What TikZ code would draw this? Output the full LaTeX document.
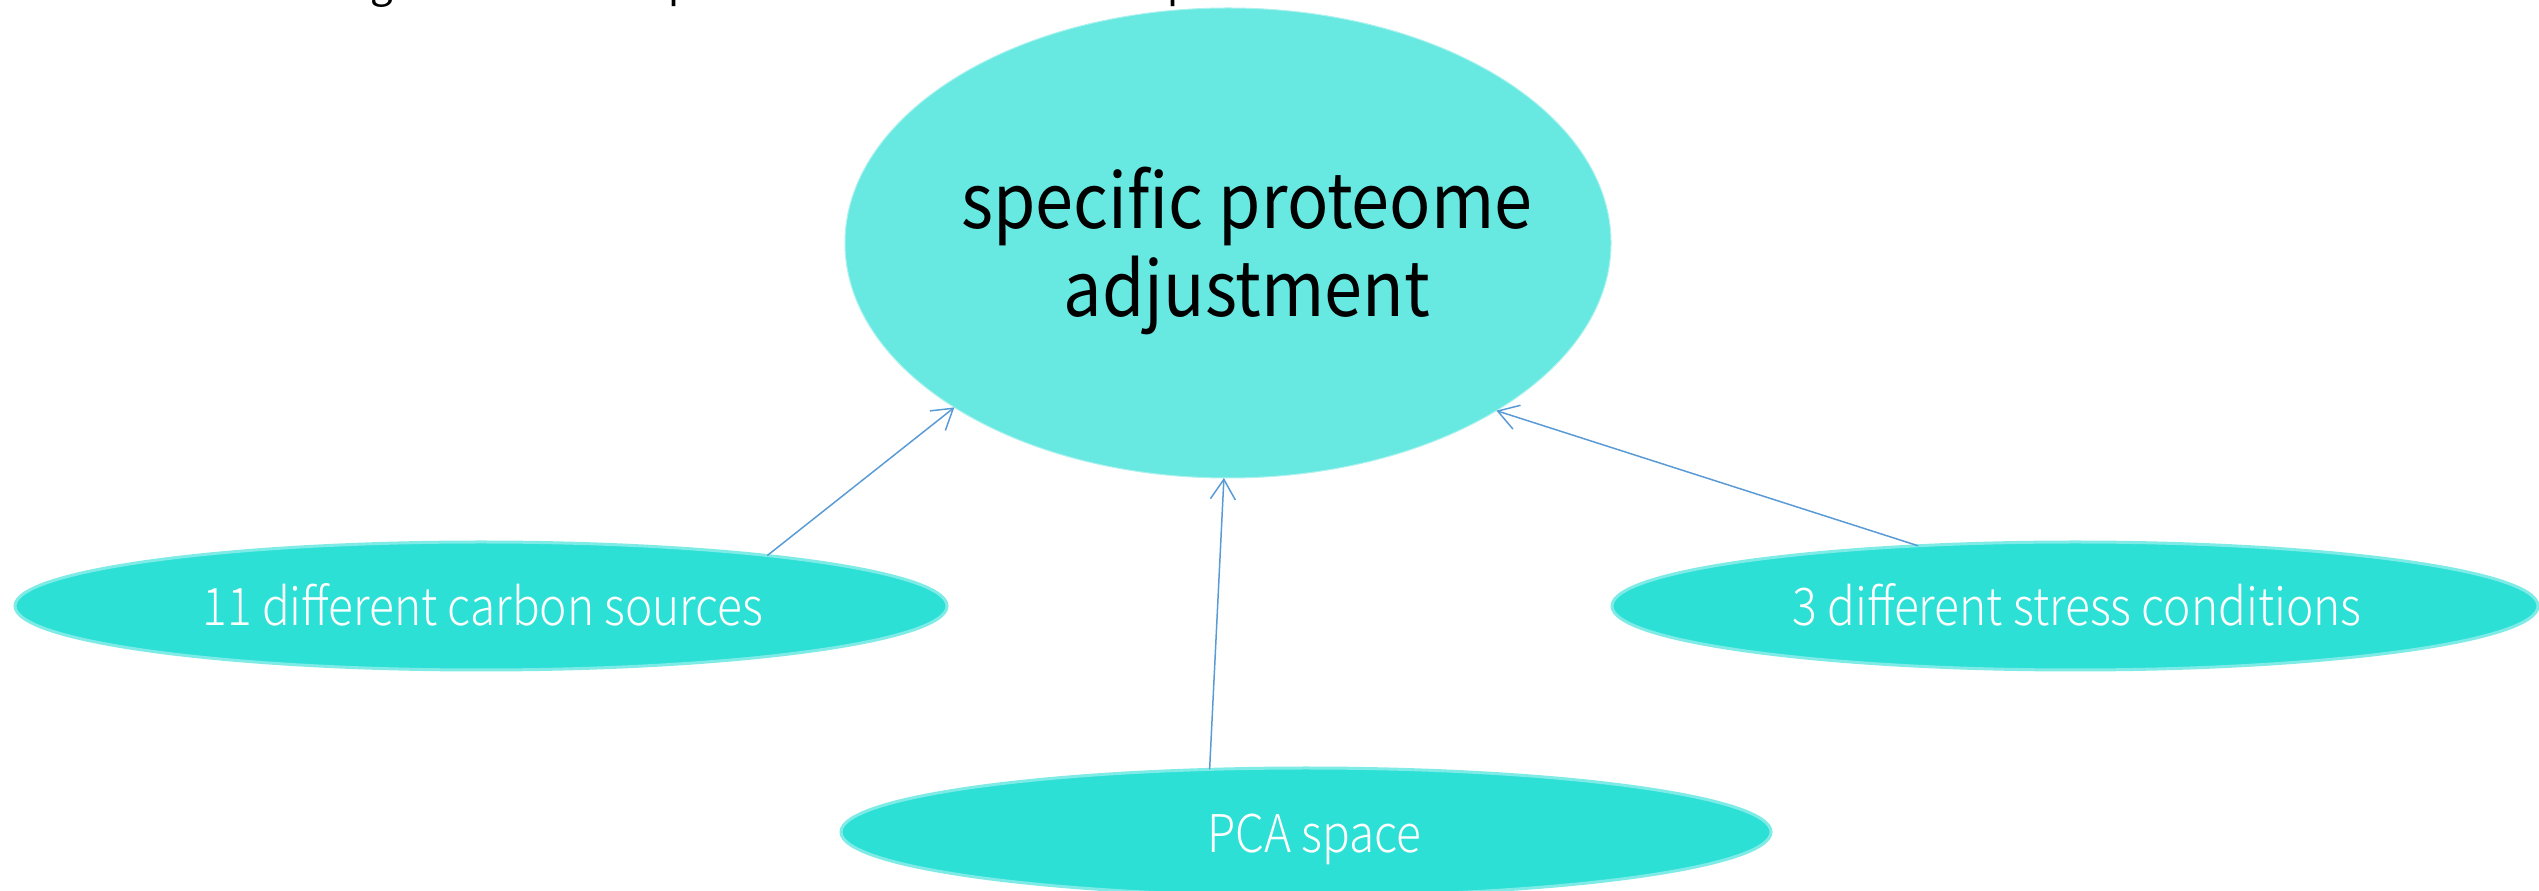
\documentclass[tikz,border=0pt]{standalone}
\usepackage{fontspec}
\setmainfont{Liberation Sans}
\newfontfamily\regsans{Noto Sans CJK SC}[FakeStretch=0.9]
\newfontfamily\lightsans{Noto Sans CJK SC Light}[FakeStretch=0.885]
\newfontfamily\cutsans{Noto Sans CJK SC}
\usetikzlibrary{shapes.geometric,arrows.meta}
\definecolor{bigfill}{HTML}{67E8E1}
\definecolor{smallfill}{HTML}{2DE0D6}
\definecolor{smallrim}{HTML}{7FEBE6}
\definecolor{linkblue}{HTML}{5B9BD5}

\begin{document}
\begin{tikzpicture}[x=0.3pt,y=-0.3pt,
  hub/.style={ellipse, fill=bigfill, draw=bigfill!55!white, line width=0.3pt,
    inner sep=0, outer sep=0, minimum width=766*0.3pt, minimum height=470*0.3pt},
  leaf/.style={ellipse, fill=smallfill, draw=smallrim, line width=0.9pt,
    inner sep=0, outer sep=0, minimum height=128*0.3pt},
  hubtext/.style={text=black, align=center, inner sep=0,
    font=\regsans\fontsize{22.8}{26.4}\selectfont},
  leaftext/.style={text=white, inner sep=0, font=\lightsans\fontsize{15.6}{18}\selectfont},
  cuttext/.style={text=black, inner sep=0, anchor=base, font=\cutsans\fontsize{12}{14}\selectfont},
  link/.style={draw=linkblue, line width=0.45pt,
    -{Straight Barb[length=6pt,width=7.5pt]}}]
  \useasboundingbox (0,0) rectangle (2539,891);
  \clip (0,0) rectangle (2539,891);

  % heading line running above the top edge: only its descenders remain
  \node[cuttext] (cutg)  at (382,-2)  {g};
  \node[cuttext] (cutp1) at (681,-2)  {p};
  \node[cuttext] (cutp2) at (1180,-2) {p};

  % central goal
  \node[hub] (hub) at (1228,243) {};
  \node[hubtext] (hubtxt) at (1247,251) {specific proteome\\adjustment};

  % contributing inputs
  \node[leaf, minimum width=932*0.3pt] (carbon) at (481,606) {};
  \node[leaftext] (carbontxt) at (483,605) {11 different carbon sources};

  \node[leaf, minimum width=926*0.3pt] (stress) at (2075,606) {};
  \node[leaftext] (stresstxt) at (2077,605) {3 different stress conditions};

  \node[leaf, minimum width=930*0.3pt] (pca) at (1306,832) {};
  \node[leaftext] (pcatxt) at (1314,839) {PCA space};

  % arrows into the goal
  \draw[link] (carbon.10.8) -- (hub.211.5);
  \draw[link] (stress.159.6) -- (hub.328.5);
  \draw[link] (pca.147.7) -- (hub.269.8);
\end{tikzpicture}
\end{document}
